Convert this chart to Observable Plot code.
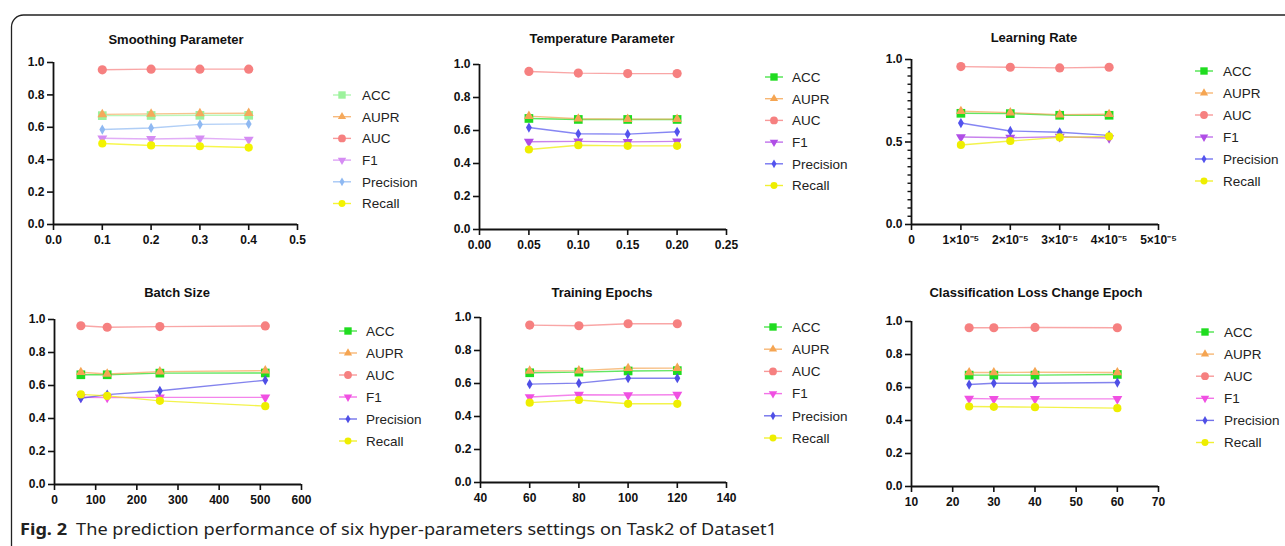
<!DOCTYPE html>
<html>
<head>
<meta charset="utf-8">
<script src="https://cdn.jsdelivr.net/npm/d3@7"></script>
<script src="https://cdn.jsdelivr.net/npm/@observablehq/plot@0.6"></script>
<style>
  html, body { margin: 0; padding: 0; background: #fff; }
  #root { position: relative; width: 1285px; height: 546px; overflow: hidden; background: #fff; }
  #root svg.plot { position: absolute; background: transparent; }
  #overlay { position: absolute; left: 0; top: 0; pointer-events: none; }
</style>
</head>
<body>
<div id="root"></div>
<script>
// ---------------- DATA ----------------
const metrics = ["ACC", "AUPR", "AUC", "F1", "Precision", "Recall"];

// Smoothing Parameter (rows follow `metrics`)
const smoothX = [0.1, 0.2, 0.3, 0.4];
const smoothVals = [
  [0.672, 0.673, 0.674, 0.674],
  [0.680, 0.683, 0.686, 0.687],
  [0.955, 0.959, 0.959, 0.959],
  [0.532, 0.528, 0.532, 0.524],
  [0.586, 0.596, 0.618, 0.621],
  [0.500, 0.488, 0.483, 0.475]
];
const smoothTicks = [0, 0.1, 0.2, 0.3, 0.4, 0.5];

// Temperature Parameter
const tempX = [0.05, 0.10, 0.15, 0.20];
const tempVals = [
  [0.673, 0.667, 0.667, 0.667],
  [0.687, 0.671, 0.669, 0.669],
  [0.958, 0.948, 0.945, 0.945],
  [0.532, 0.534, 0.531, 0.534],
  [0.618, 0.580, 0.578, 0.592],
  [0.485, 0.511, 0.507, 0.507]
];
const tempTicks = [0, 0.05, 0.10, 0.15, 0.20, 0.25];

// Learning Rate
const lrX = [1e-5, 2e-5, 3e-5, 4e-5];
const lrVals = [
  [0.674, 0.672, 0.662, 0.662],
  [0.686, 0.678, 0.666, 0.668],
  [0.957, 0.953, 0.949, 0.953],
  [0.530, 0.526, 0.532, 0.524],
  [0.615, 0.567, 0.559, 0.540],
  [0.482, 0.506, 0.528, 0.534]
];
const lrTicks = [0, 1e-5, 2e-5, 3e-5, 4e-5, 5e-5];
const lrTickLabels = ["0", "1×10⁻⁵", "2×10⁻⁵", "3×10⁻⁵", "4×10⁻⁵", "5×10⁻⁵"];

// Batch Size
const batchX = [64, 128, 256, 512];
const batchVals = [
  [0.665, 0.665, 0.675, 0.676],
  [0.680, 0.670, 0.684, 0.690],
  [0.962, 0.953, 0.957, 0.961],
  [0.529, 0.527, 0.528, 0.528],
  [0.523, 0.545, 0.568, 0.632],
  [0.546, 0.537, 0.507, 0.475]
];
const batchTicks = [0, 100, 200, 300, 400, 500, 600];

// Training Epochs
const epochX = [60, 80, 100, 120];
const epochVals = [
  [0.665, 0.669, 0.676, 0.678],
  [0.676, 0.678, 0.692, 0.693],
  [0.954, 0.950, 0.962, 0.962],
  [0.518, 0.532, 0.530, 0.532],
  [0.596, 0.602, 0.632, 0.632],
  [0.484, 0.500, 0.477, 0.477]
];
const epochTicks = [40, 60, 80, 100, 120, 140];

// Classification Loss Change Epoch
const clceX = [24, 30, 40, 60];
const clceVals = [
  [0.675, 0.675, 0.675, 0.679],
  [0.691, 0.691, 0.692, 0.691],
  [0.962, 0.962, 0.964, 0.962],
  [0.533, 0.531, 0.531, 0.531],
  [0.618, 0.626, 0.626, 0.630],
  [0.485, 0.483, 0.481, 0.475]
];
const clceTicks = [10, 20, 30, 40, 50, 60, 70];

const yTicksStd = [0, 0.2, 0.4, 0.6, 0.8, 1.0];
const yTicksLR = [0, 0.5, 1.0];
const yMinorLR = [0.05,0.1,0.15,0.2,0.25,0.3,0.35,0.4,0.45,0.55,0.6,0.65,0.7,0.75,0.8,0.85,0.9,0.95];

const captionBold = "Fig. 2";
const captionText = "The prediction performance of six hyper-parameters settings on Task2 of Dataset1";

// ---------------- STYLES ----------------
const pastel = {ACC:"#9cf29c", AUPR:"#f5a95c", AUC:"#f68080", F1:"#d58cf3", Precision:"#8fb9f2", Recall:"#f3f300"};
const vivid  = {ACC:"#20dc20", AUPR:"#f5a552", AUC:"#f68080", F1:"#b04ee6", Precision:"#5353ee", Recall:"#eeee00"};
const pinky  = {ACC:"#20dc20", AUPR:"#f5a552", AUC:"#f68080", F1:"#f050e2", Precision:"#4f4fe6", Recall:"#eeee00"};

const sqrt3 = Math.sqrt(3);
const triangleDown = {
  draw(context, size) {
    const y = Math.sqrt(size / (sqrt3 * 3));
    context.moveTo(0, y * 2);
    context.lineTo(-sqrt3 * y, -y);
    context.lineTo(sqrt3 * y, -y);
    context.closePath();
  }
};
const symbolOf = {ACC: d3.symbolSquare, AUPR: d3.symbolTriangle, AUC: d3.symbolCircle, F1: triangleDown, Precision: d3.symbolDiamond, Recall: d3.symbolCircle};
const radiusOf = {ACC: 4.9, AUPR: 3.6, AUC: 4.6, F1: 3.7, Precision: 3.1, Recall: 4.1};

const fmt1 = d3.format(".1f"), fmt2 = d3.format(".2f"), fmt0 = d3.format("d");

const panels = [
  {title:"Smoothing Parameter", xs:smoothX, vals:smoothVals, xTicks:smoothTicks, xFmt:fmt1, yTicks:yTicksStd, colors:pastel,
   box:[53, 297, 62, 224], titlePos:[176, 44], legend:[342, 362, 95, 21.7]},
  {title:"Temperature Parameter", xs:tempX, vals:tempVals, xTicks:tempTicks, xFmt:fmt2, yTicks:yTicksStd, colors:vivid,
   box:[479, 726, 64, 229], titlePos:[602, 43], legend:[774, 792, 77, 21.7]},
  {title:"Learning Rate", xs:lrX, vals:lrVals, xTicks:lrTicks, xFmt:(d, i) => lrTickLabels[i], yTicks:yTicksLR, yMinor:yMinorLR, colors:vivid,
   box:[911, 1158, 59, 224], titlePos:[1034, 42], legend:[1204, 1223, 71, 22]},
  {title:"Batch Size", xs:batchX, vals:batchVals, xTicks:batchTicks, xFmt:fmt0, yTicks:yTicksStd, colors:pinky,
   box:[54, 301, 319, 484], titlePos:[177, 297], legend:[348, 366, 331, 22]},
  {title:"Training Epochs", xs:epochX, vals:epochVals, xTicks:epochTicks, xFmt:fmt0, yTicks:yTicksStd, colors:pinky,
   box:[480, 726, 317, 482], titlePos:[602, 297], legend:[773, 792, 327, 22.2]},
  {title:"Classification Loss Change Epoch", xs:clceX, vals:clceVals, xTicks:clceTicks, xFmt:fmt0, yTicks:yTicksStd, colors:pinky,
   box:[911, 1158, 321, 486], titlePos:[1036, 297], legend:[1205, 1224, 332, 22.1]}
];

const root = document.getElementById("root");
const FONT = "Liberation Sans, Arial, Helvetica, sans-serif";
const tickText = {fontFamily: FONT, fontWeight: "bold", fontSize: 12, label: null};

function makePanel(p) {
  const [x0, x1, yTop, yBot] = p.box;
  const mL = 44, mR = 22, mT = 10, mB = 34;
  const data = [];
  metrics.forEach((m, i) => p.xs.forEach((x, j) => data.push({metric: m, x, y: p.vals[i][j]})));
  const marks = [];
  marks.push(Plot.axisY({...tickText, ticks: p.yTicks, tickFormat: fmt1, tickSize: 6, tickPadding: 3, strokeWidth: 1.6, stroke: "#111", fill: "#111"}));
  if (p.yMinor) marks.push(Plot.axisY({...tickText, ticks: p.yMinor, tickFormat: () => "", tickSize: 3.5, strokeWidth: 1.4, stroke: "#111"}));
  marks.push(Plot.axisX({...tickText, ticks: p.xTicks, tickFormat: p.xFmt, tickSize: 6, tickPadding: 5, strokeWidth: 1.6, stroke: "#111", fill: "#111"}));
  marks.push(Plot.ruleY([0], {stroke: "#111", strokeWidth: 1.8}));
  marks.push(Plot.ruleX([p.xTicks[0]], {stroke: "#111", strokeWidth: 1.8}));
  metrics.forEach(m => marks.push(Plot.line(data.filter(d => d.metric === m),
    {x: "x", y: "y", stroke: p.colors[m], strokeWidth: 1.4, strokeOpacity: 0.7})));
  metrics.forEach(m => marks.push(Plot.dot(data.filter(d => d.metric === m),
    {x: "x", y: "y", symbol: symbolOf[m], r: radiusOf[m], fill: p.colors[m], stroke: "none"})));
  const svg = Plot.plot({
    width: mL + (x1 - x0) + mR,
    height: mT + (yBot - yTop) + mB,
    marginLeft: mL, marginRight: mR, marginTop: mT, marginBottom: mB,
    x: {domain: [p.xTicks[0], p.xTicks[p.xTicks.length - 1]], label: null},
    y: {domain: [0, 1], label: null},
    style: {background: "transparent", overflow: "visible"},
    marks
  });
  svg.classList.add("plot");
  svg.style.left = (x0 - mL) + "px";
  svg.style.top = (yTop - mT) + "px";
  root.appendChild(svg);
}
panels.forEach(makePanel);

// ---------------- OVERLAY: frame, titles, legends, caption ----------------
const ov = d3.select(root).append("svg").attr("id", "overlay").attr("width", 1285).attr("height", 546);
ov.append("rect").attr("x", 11.5).attr("y", 15).attr("width", 1400).attr("height", 700)
  .attr("rx", 12).attr("fill", "none").attr("stroke", "#222").attr("stroke-width", 1.3);

panels.forEach(p => {
  ov.append("text").attr("x", p.titlePos[0]).attr("y", p.titlePos[1]).attr("text-anchor", "middle")
    .attr("font-family", FONT).attr("font-weight", "bold").attr("font-size", 13).attr("fill", "#111").text(p.title);
  const [mx, tx, y0, dy] = p.legend;
  metrics.forEach((m, i) => {
    const y = y0 + i * dy;
    const g = ov.append("g");
    g.append("line").attr("x1", mx - 9).attr("x2", mx + 9).attr("y1", y).attr("y2", y)
      .attr("stroke", p.colors[m]).attr("stroke-width", 1.4).attr("stroke-opacity", 0.8);
    const r = radiusOf[m] * 0.85;
    g.append("path").attr("d", d3.symbol().type(symbolOf[m]).size(Math.PI * r * r)())
      .attr("transform", `translate(${mx},${y})`).attr("fill", p.colors[m]);
    g.append("text").attr("x", tx).attr("y", y).attr("dy", "0.36em")
      .attr("font-family", FONT).attr("font-size", 13.5).attr("fill", "#222").text(m);
  });
});

const cap = ov.append("text").attr("x", 20).attr("y", 535)
  .attr("font-family", "'Noto Sans', 'Open Sans', sans-serif").attr("font-size", 16).attr("fill", "#222");
cap.append("tspan").attr("font-weight", "bold").text(captionBold);
cap.append("tspan").attr("dx", 8).text(captionText);
const w = cap.node().getComputedTextLength();
if (w > 0) cap.attr("textLength", 757).attr("lengthAdjust", "spacingAndGlyphs");
</script>
</body>
</html>
